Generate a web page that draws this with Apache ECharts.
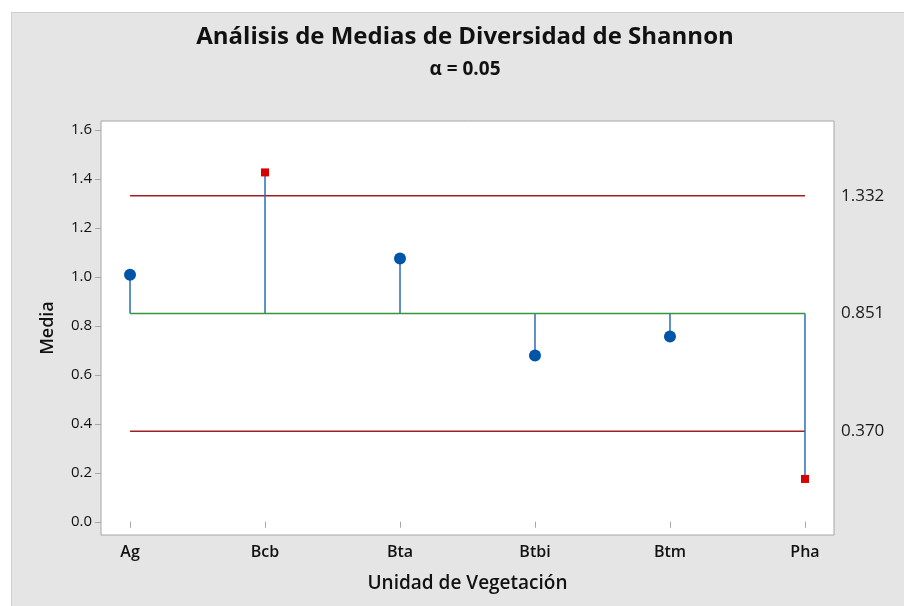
<!DOCTYPE html>
<html>
<head>
<meta charset="utf-8">
<script src="https://cdn.jsdelivr.net/npm/echarts@6/dist/echarts.min.js"></script>
<style>
  html, body { margin: 0; padding: 0; background: #ffffff; }
  #wrap { position: relative; width: 904px; height: 606px; overflow: hidden; }
  #panel { position: absolute; left: 11px; top: 12px; width: 900px; height: 600px;
           background: #e5e5e5; border-left: 1px solid #cfcfcf; border-top: 1px solid #cfcfcf; }
  #chart { position: absolute; left: 0; top: 0; width: 904px; height: 606px; }
</style>
</head>
<body>
<div id="wrap">
  <div id="panel"></div>
  <div id="chart"></div>
</div>
<script>
// Vegetation units and their mean Shannon diversity
const categories = ['Ag', 'Bcb', 'Bta', 'Btbi', 'Btm', 'Pha'];
const means = [1.009, 1.427, 1.075, 0.679, 0.757, 0.175];

// ANOM centre line and decision limits (alpha = 0.05)
const centerLine = 0.851;
const upperLimit = 1.332;
const lowerLimit = 0.370;

// Y axis tick labels
const yTicks = [0.0, 0.2, 0.4, 0.6, 0.8, 1.0, 1.2, 1.4, 1.6];

const FONT = '"Open Sans", "Noto Sans", sans-serif';
const xPositions = categories.map((c, i) => i + 1);
const firstX = xPositions[0];
const lastX = xPositions[xPositions.length - 1];

const chart = echarts.init(document.getElementById('chart'), null, { renderer: 'canvas' });

const limitLine = (value, color) => ({
  type: 'line',
  data: [[firstX, value], [lastX, value]],
  symbol: 'none',
  silent: true,
  lineStyle: { color: color, width: 1.5 },
  endLabel: {
    show: true,
    formatter: () => value.toFixed(3),
    distance: 36,
    color: '#1a1a1a',
    fontFamily: FONT,
    fontSize: 17
  },
  z: 2
});

const outside = v => v > upperLimit || v < lowerLimit;

chart.setOption({
  backgroundColor: 'transparent',
  animation: false,
  graphic: [
    {
      type: 'text', x: 465, y: 25,
      style: {
        text: 'Análisis de Medias de Diversidad de Shannon',
        fill: '#111', font: 'bold 24px ' + FONT, textAlign: 'center'
      }
    },
    {
      type: 'text', x: 465, y: 60,
      style: {
        text: 'α = 0.05',
        fill: '#111', font: 'bold 19px ' + FONT, textAlign: 'center'
      }
    }
  ],
  grid: {
    left: 101, right: 70, top: 121, bottom: 71,
    show: true, backgroundColor: '#ffffff', borderColor: '#a6a6a6', borderWidth: 1
  },
  xAxis: {
    type: 'value',
    min: 0.785, max: 6.215,
    name: 'Unidad de Vegetación',
    nameLocation: 'middle',
    nameGap: 39,
    nameTextStyle: { fontFamily: FONT, fontSize: 19, fontWeight: 600, color: '#111' },
    axisLine: { show: false },
    splitLine: { show: false },
    axisTick: { show: true, customValues: xPositions, length: 6, lineStyle: { color: '#a6a6a6' } },
    axisLabel: {
      customValues: xPositions,
      formatter: v => categories[Math.round(v) - 1] || '',
      fontFamily: FONT, fontSize: 16, fontWeight: 600, color: '#111', margin: 9
    }
  },
  yAxis: {
    type: 'value',
    min: -0.054, max: 1.637,
    name: 'Media',
    nameLocation: 'middle',
    nameGap: 44,
    nameRotate: 90,
    nameTextStyle: { fontFamily: FONT, fontSize: 18, fontWeight: 600, color: '#111' },
    axisLine: { show: false },
    splitLine: { show: false },
    axisTick: { show: true, customValues: yTicks, length: 6, lineStyle: { color: '#a6a6a6' } },
    axisLabel: {
      customValues: yTicks,
      formatter: v => v.toFixed(1),
      fontFamily: FONT, fontSize: 15, color: '#111', margin: 9
    }
  },
  series: [
    limitLine(upperLimit, '#a31f1f'),
    limitLine(lowerLimit, '#a31f1f'),
    {
      // stems from the centre line to each mean
      type: 'custom',
      silent: true,
      data: means.map((v, i) => [xPositions[i], v]),
      renderItem: (params, api) => {
        const x = api.value(0);
        const p0 = api.coord([x, centerLine]);
        const p1 = api.coord([x, api.value(1)]);
        return {
          type: 'line',
          shape: { x1: p0[0], y1: p0[1], x2: p1[0], y2: p1[1] },
          style: { stroke: '#2b6cb8', lineWidth: 1.5 }
        };
      },
      z: 3
    },
    Object.assign(limitLine(centerLine, '#34973f'), { z: 4 }),
    {
      type: 'scatter',
      silent: true,
      data: means.map((v, i) => ({
        value: [xPositions[i], v],
        symbol: outside(v) ? 'rect' : 'circle',
        symbolSize: outside(v) ? 8 : 12,
        itemStyle: { color: outside(v) ? '#d90000' : '#0055a8', opacity: 1 }
      })),
      z: 5
    }
  ]
});
</script>
</body>
</html>
